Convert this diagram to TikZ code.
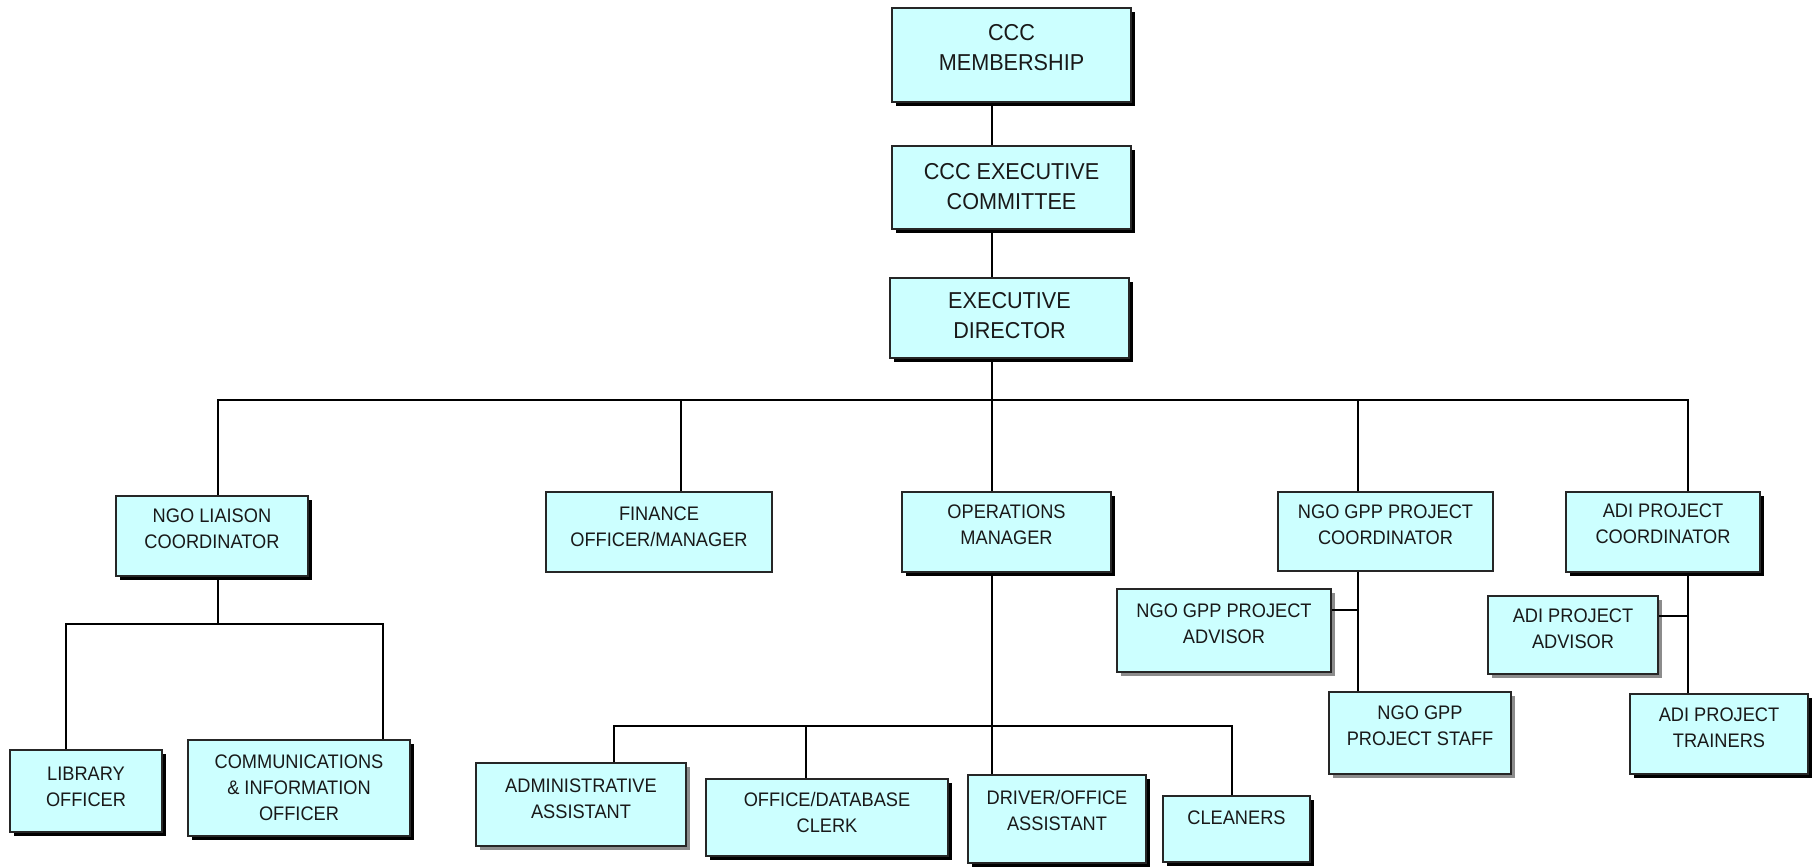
\documentclass[tikz,border=0pt]{standalone}
\usepackage{fontspec}
\setmainfont{Liberation Sans}
\newfontfamily\topfont[FakeStretch=0.94]{Liberation Sans}
\newfontfamily\boxfont[FakeStretch=0.93]{Liberation Sans}
\usetikzlibrary{shadows}
\definecolor{boxfill}{HTML}{CCFFFF}
\definecolor{boxline}{HTML}{262626}
\definecolor{shadegray}{HTML}{8C8C8C}
\tikzset{
  box/.style={draw=boxline, line width=1pt, fill=boxfill, inner sep=0pt, rectangle},
  blackshadow/.style={drop shadow={shadow xshift=2pt, shadow yshift=-2pt, fill=black, opacity=1}},
  grayshadow/.style={drop shadow={shadow xshift=2pt, shadow yshift=-2pt, fill=shadegray, opacity=1}},
  noshadow/.style={},
  toptxt/.style={align=center, font=\topfont\fontsize{11.5}{15}\selectfont, inner sep=0pt, text=black!90},
  boxtxt/.style={align=center, font=\boxfont\fontsize{9.8}{13}\selectfont, inner sep=0pt, text=black!90},
  link/.style={line width=1.1pt, black},
}
% #1 name, #2 shadow style, #3 text style, #4 x1, #5 y1, #6 x2, #7 y2, #8 text lift (px), #9 text
\newcommand\orgbox[9]{%
  \node[box,#2,minimum width={(#6-#4)*0.5pt},minimum height={(#7-#5)*0.5pt}] (#1) at ({(#4+#6)/2},{(#5+#7)/2}) {};
  \node[#3] (#1-t) at ([yshift=#8*0.5pt]#1.center) {#9};}
\begin{document}
\begin{tikzpicture}[x=0.5pt,y=-0.5pt]
\useasboundingbox (0,0) rectangle (1814,867);

\orgbox{mem}{blackshadow}{toptxt}{892}{8}{1131}{102}{7}{CCC\\MEMBERSHIP}
\orgbox{exc}{blackshadow}{toptxt}{892}{146}{1131}{229}{1}{CCC EXECUTIVE\\COMMITTEE}
\orgbox{dir}{blackshadow}{toptxt}{890}{278}{1129}{358}{2}{EXECUTIVE\\DIRECTOR}
\orgbox{ngo}{blackshadow}{boxtxt}{116}{496}{308}{576}{7}{NGO LIAISON\\COORDINATOR}
\orgbox{fin}{noshadow}{boxtxt}{546}{492}{772}{572}{5}{FINANCE\\OFFICER/MANAGER}
\orgbox{ops}{blackshadow}{boxtxt}{902}{492}{1111}{572}{7}{OPERATIONS\\MANAGER}
\orgbox{gppc}{noshadow}{boxtxt}{1278}{492}{1493}{571}{7}{NGO GPP PROJECT\\COORDINATOR}
\orgbox{adic}{blackshadow}{boxtxt}{1566}{492}{1760}{572}{8}{ADI PROJECT\\COORDINATOR}
\orgbox{lib}{blackshadow}{boxtxt}{10}{750}{162}{832}{4}{LIBRARY\\OFFICER}
\orgbox{com}{blackshadow}{boxtxt}{188}{740}{410}{836}{0}{COMMUNICATIONS\\\& INFORMATION\\OFFICER}
\orgbox{adm}{grayshadow}{boxtxt}{476}{763}{686}{846}{6}{ADMINISTRATIVE\\ASSISTANT}
\orgbox{odb}{blackshadow}{boxtxt}{706}{779}{948}{856}{5}{OFFICE/DATABASE\\CLERK}
\orgbox{drv}{blackshadow}{boxtxt}{968}{775}{1146}{863}{9}{DRIVER/OFFICE\\ASSISTANT}
\orgbox{cln}{blackshadow}{boxtxt}{1163}{796}{1310}{862}{11}{CLEANERS}
\orgbox{gppa}{grayshadow}{boxtxt}{1117}{589}{1331}{672}{7}{NGO GPP PROJECT\\ADVISOR}
\orgbox{gpps}{grayshadow}{boxtxt}{1329}{692}{1511}{774}{7}{NGO GPP\\PROJECT STAFF}
\orgbox{adia}{grayshadow}{boxtxt}{1488}{596}{1658}{674}{6}{ADI PROJECT\\ADVISOR}
\orgbox{adit}{blackshadow}{boxtxt}{1630}{694}{1808}{774}{6}{ADI PROJECT\\TRAINERS}

% junction coordinates
\coordinate (vx) at (991.7,0);
\coordinate (c1) at (218,400);
\coordinate (c2) at (681,400);
\coordinate (c4) at (1358,400);
\coordinate (c5) at (1688,400);
\coordinate (n0) at (218,624);
\coordinate (l1) at (66,624);
\coordinate (l2) at (383,624);
\coordinate (d1) at (614,725.7);
\coordinate (d2) at (806,725.7);
\coordinate (d4) at (1232,725.7);
\coordinate (g1) at (1358,610);
\coordinate (a1) at (1688,616);

% top chain
\draw[link] (mem.south -| vx) -- (exc.north -| vx);
\draw[link] (exc.south -| vx) -- (dir.north -| vx);
\draw[link] (dir.south -| vx) -- (ops.north -| vx);
% main bar
\draw[link] (ngo.north -| c1) -- (c1) -- (c5) -- (adic.north -| c5);
\draw[link] (c2) -- (fin.north -| c2);
\draw[link] (c4) -- (gppc.north -| c4);
% NGO liaison subtree
\draw[link] (ngo.south -| n0) -- (n0);
\draw[link] (lib.north -| l1) -- (l1) -- (l2) -- (com.north -| l2);
% operations subtree
\draw[link] (ops.south -| vx) -- (drv.north -| vx);
\draw[link] (adm.north -| d1) -- (d1) -- (d4) -- (cln.north -| d4);
\draw[link] (d2) -- (odb.north -| d2);
% NGO GPP subtree
\draw[link] (gppc.south -| c4) -- (gpps.north -| c4);
\draw[link] (gppa.east |- g1) -- (g1);
% ADI subtree
\draw[link] (adic.south -| c5) -- (adit.north -| c5);
\draw[link] (adia.east |- a1) -- (a1);
\end{tikzpicture}
\end{document}
